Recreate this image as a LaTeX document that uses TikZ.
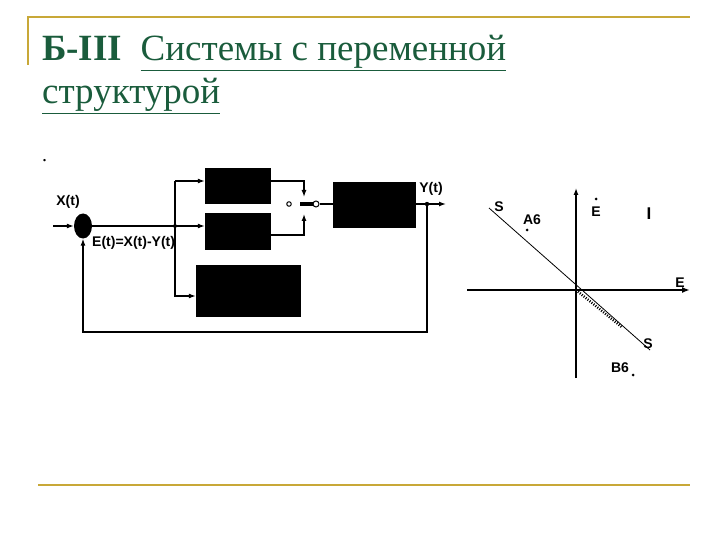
\documentclass[tikz,border=0pt]{standalone}
\usepackage{fontspec}
\setmainfont{Liberation Serif}
\setsansfont{Liberation Sans}
\usetikzlibrary{arrows.meta,shapes.geometric,calc}
\definecolor{tgreen}{HTML}{1A5C3C}
\definecolor{gold}{HTML}{C8A838}
\newcommand{\uln}[1]{\underline{#1}}
\begin{document}
\begin{tikzpicture}[x=1pt,y=-1pt,
  blk/.style={fill=black,draw=black,inner sep=0},
  ln/.style={line width=1.3pt},
  arr/.style={ln,-{Latex[length=7pt,width=5pt]}},
  lab/.style={font=\sffamily\bfseries\fontsize{14}{14}\selectfont,inner sep=0},
  blab/.style={font=\sffamily\bfseries\fontsize{14}{14}\selectfont,inner sep=0}]
\useasboundingbox (0,0) rectangle (720,540);
\draw[gold,line width=1.4pt] (28,65) -- (28,17) -- (690,17);
\draw[gold,line width=1.4pt] (38,485) -- (690,485);
\node[anchor=base west,text=tgreen,font=\fontsize{37}{37}\selectfont,inner sep=0] (t1) at (42,61) {\textbf{Б-III}\ \ \uln{Системы с переменной}};
\node[anchor=base west,text=tgreen,font=\fontsize{37}{37}\selectfont,inner sep=0] (t2) at (42,104) {\uln{структурой}};
\node[anchor=base west,inner sep=0,font=\fontsize{20}{20}\selectfont] (dot) at (42,162) {.};
% block diagram
\node[blk,minimum width=65,minimum height=35] (b1) at (237.5,185.5) {};
\node[blk,minimum width=65,minimum height=36] (b2) at (237.5,231) {};
\node[blk,minimum width=104,minimum height=51] (b3) at (248,290.5) {};
\node[blk,minimum width=82,minimum height=45] (b4) at (374,204.5) {};
\node[ellipse,fill=black,minimum width=18,minimum height=25,inner sep=0] (sum) at (83,226) {};
\coordinate (in) at (53,226);
\coordinate (j) at (175,226);
\coordinate (j1) at (175,181);
\coordinate (j3) at (175,296);
\draw[arr] (in) -- (sum);
\draw[ln] (sum) -- (j);
\draw[arr] (j) -- (b2.west|-j);
\draw[arr] (j1) -- (b1.west|-j1);
\draw[arr] (j1) -- (j3) -- (b3.west|-j3);
\fill (j) circle (2);
\coordinate (s1) at (304,181);
\coordinate (s2) at (304,235);
\draw[arr] (b1.east|-s1) -- (s1) -- (304,197);
\draw[arr] (b2.east|-s2) -- (s2) -- (304,214);
\node[circle,draw,line width=1pt,minimum size=4.5,inner sep=0] (c1) at (289,204) {};
\node[circle,draw,line width=1pt,minimum size=6,inner sep=0] (c2) at (316,204) {};
\draw[line width=4.5pt] (300,204) -- (c2.west);
\draw[ln] (c2) -- (b4.west|-c2);
\coordinate (o) at (427,204);
\coordinate (oe) at (446,204);
\draw[ln] (b4.east|-o) -- (o);
\draw[arr] (o) -- (oe);
\fill (o) circle (2.2);
\draw[arr] (o) -- (427,332) -- (83,332) -- (sum.south);
\node[blab] (xt) at (68,202) {X(t)};
\node[blab] (yt) at (431,189) {Y(t)};
\node[blab,anchor=west] (et) at (92,243) {E(t)=X(t)-Y(t)};
% phase plane
\coordinate (vb) at (576,378); \coordinate (vt) at (576,188);
\coordinate (hl) at (467,290); \coordinate (hr) at (690,290);
\draw[arr] (vb) -- (vt);
\draw[line width=1.8pt,-{Latex[length=8pt,width=6pt]}] (hl) -- (hr);
\coordinate (sa) at (489,208); \coordinate (sb) at (650,350); \coordinate (o2) at (576,290);
\draw[line width=0.8pt] (sa) -- (sb);
\draw[line width=2.5pt,dash pattern=on 1pt off 1.5pt] (o2) -- ($(o2)!0.62!(sb)$);
\node[lab] (S1) at (499,207) {S};
\node[lab] (A6) at (532,220) {A6};
\fill (527,230) circle (1.5);
\node[lab] (Ed) at (596,212) {E};
\fill (596,199) circle (1.5);
\node[lab,font=\sffamily\bfseries\fontsize{17}{17}\selectfont] (I) at (649,214) {I};
\node[lab] (E) at (680,283) {E};
\node[lab] (S2) at (648,344) {S};
\node[lab] (B6) at (620,368) {B6};
\fill (633,375) circle (1.5);
\end{tikzpicture}
\end{document}
